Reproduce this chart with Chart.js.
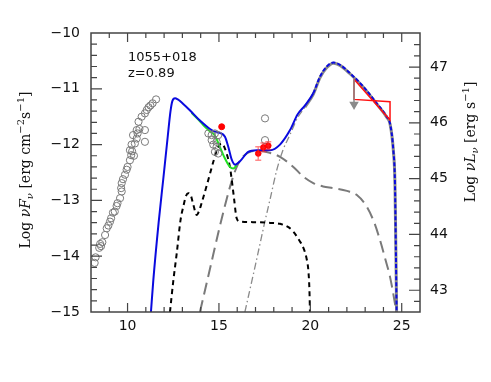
<!DOCTYPE html>
<html><head><meta charset="utf-8">
<script src="https://cdn.jsdelivr.net/npm/chart.js@4.4.0/dist/chart.umd.min.js"></script>
<style>html,body{margin:0;padding:0;background:#fff}#wrap{width:491px;height:382px}</style>
</head><body><div id="wrap"><canvas id="c" width="491" height="382"></canvas></div>
<script>
// ---- data (log nu [Hz], log nuF_nu [erg cm^-2 s^-1]) ----
const xTickLabels = ['10','15','20','25'];
const xTickValues = [10,15,20,25];
const yTickLabels = ['\u221210','\u221211','\u221212','\u221213','\u221214','\u221215'];
const yTickValues = [-10,-11,-12,-13,-14,-15];
const y2TickLabels = ['43','44','45','46','47'];
const y2TickValues = [43,44,45,46,47];

const archiveX = [8.2,8.25,8.45,8.5,8.55,8.62,8.77,8.86,8.95,9.04,9.1,9.2,9.3,9.4,9.45,9.59,9.68,9.65,9.68,9.75,9.86,9.95,10.0,10.13,10.2,10.13,10.25,10.35,10.22,10.4,10.5,10.3,10.55,10.5,10.65,10.95,10.95,10.6,10.77,10.95,11.05,11.15,11.25,11.37,11.56,
  14.6,14.78,14.96,14.6,14.87,14.69,14.87,14.78,14.96,14.42,17.52,17.52];
const archiveY = [-14.12,-14.02,-13.85,-13.78,-13.82,-13.75,-13.62,-13.5,-13.45,-13.38,-13.32,-13.22,-13.2,-13.1,-13.05,-12.96,-12.84,-12.78,-12.69,-12.62,-12.54,-12.45,-12.4,-12.28,-12.19,-12.1,-12.12,-12.2,-12.0,-11.98,-11.89,-11.83,-11.8,-11.74,-11.72,-11.74,-11.95,-11.59,-11.5,-11.44,-11.38,-11.33,-11.3,-11.26,-11.19,
  -11.83,-11.8,-11.83,-11.92,-11.95,-12.0,-12.04,-12.13,-12.16,-11.8,-11.53,-11.92];

const redDotX = [15.15];
const redDotY = [-11.68];

const xrayX = [17.15,17.43,17.7];
const xrayY = [-12.16,-12.05,-12.02];
const xrayYErr = [0.12,0.08,0.07];
const xrayXErr = [0.1,0.1,0.1];

const totalX = [11.28,11.41,11.7,11.95,12.2,12.35,12.45,12.6,12.75,12.87,13.42,13.96,14.51,14.88,15.05,15.33,15.51,15.7,15.88,16.15,16.6,17.06,17.8,18.34,18.89,19.3,19.7,20.16,20.53,20.9,21.26,21.62,22.17,22.9,23.63,24.18,24.36,24.54,24.63,24.68,24.72];
const totalY = [-15.0,-14.43,-13.4,-12.63,-11.85,-11.4,-11.22,-11.17,-11.19,-11.22,-11.39,-11.57,-11.72,-11.78,-11.79,-11.86,-12.04,-12.27,-12.36,-12.3,-12.13,-12.1,-12.1,-12.0,-11.74,-11.46,-11.3,-11.08,-10.78,-10.6,-10.53,-10.57,-10.72,-10.96,-11.26,-11.5,-11.62,-12.1,-12.69,-13.89,-14.98];

const opticalX = [13.5,13.9,14.14,14.5,14.78,15.05,15.33,15.6,15.78,15.97];
const opticalY = [-11.43,-11.56,-11.65,-11.76,-11.84,-12.04,-12.25,-12.4,-12.43,-12.37];

const diskX = [12.32,12.5,12.69,12.9,13.05,13.2,13.32,13.45,13.6,13.78,13.9,14.05,14.42,14.7,14.96,15.15,15.42,15.6,15.7,15.82,15.97,16.15,17.0,17.61,18.34,18.8,19.07,19.4,19.62,19.8,19.89,19.95,19.98];
const diskY = [-15.0,-14.45,-13.95,-13.35,-13.11,-12.92,-12.87,-12.9,-13.08,-13.26,-13.2,-13.05,-12.63,-12.3,-12.04,-11.98,-12.16,-12.4,-12.63,-12.95,-13.32,-13.38,-13.39,-13.4,-13.42,-13.48,-13.56,-13.72,-13.85,-14.05,-14.25,-14.6,-15.0];

const sscX = [13.96,14.5,15.0,15.5,15.8,16.0,16.3,16.7,17.2,17.8,18.34,19.07,19.6,20.16,20.7,21.26,22.0,22.53,23.08,23.5,23.81,24.1,24.36,24.63,24.7];
const sscY = [-15.0,-14.24,-13.53,-12.88,-12.55,-12.38,-12.22,-12.13,-12.11,-12.15,-12.22,-12.4,-12.57,-12.69,-12.75,-12.78,-12.83,-12.9,-13.11,-13.4,-13.71,-14.05,-14.37,-14.85,-15.0];

const ecX = [16.42,17.0,17.5,17.79,18.16,18.5,18.89,19.3,19.7,20.16,20.53,20.9,21.26,21.62,22.17,22.9,23.63,24.18,24.36,24.54,24.63,24.68,24.72];
const ecY = [-15.0,-14.15,-13.4,-12.99,-12.46,-12.1,-11.82,-11.52,-11.33,-11.1,-10.8,-10.62,-10.54,-10.58,-10.73,-10.97,-11.27,-11.51,-11.63,-12.1,-12.7,-13.9,-15.0];

const fermiX = [22.39,24.36,24.36,22.39,22.39];
const fermiY = [-10.83,-11.56,-11.23,-11.19,-10.83];
const limitX = [22.39,22.39];
const limitY = [-10.83,-11.28];

const sourceName = '1055+018';
const redshiftText = 'z=0.89';

// ---- build ----
const pts = (xs, ys) => xs.map((x, i) => ({x, y: ys[i]}));

const curve = (data, color, width, dash, order, extra) => Object.assign({
  data, showLine: true, borderColor: color, borderWidth: width, borderDash: dash,
  pointRadius: 0, pointHoverRadius: 0, cubicInterpolationMode: 'monotone', fill: false, order
}, extra || {});

const errorPlugin = {
  id: 'errbars',
  afterDatasetsDraw(chart) {
    const ctx = chart.ctx, xs = chart.scales.x, ys = chart.scales.y;
    ctx.save();
    ctx.strokeStyle = 'rgba(255,40,40,0.55)';
    ctx.lineWidth = 1.5;
    xrayX.forEach((x, i) => {
      const px = xs.getPixelForValue(x), py = ys.getPixelForValue(xrayY[i]);
      const t = ys.getPixelForValue(xrayY[i] + xrayYErr[i]), b = ys.getPixelForValue(xrayY[i] - xrayYErr[i]);
      const l = xs.getPixelForValue(x - xrayXErr[i]), r = xs.getPixelForValue(x + xrayXErr[i]);
      ctx.beginPath();
      ctx.moveTo(px, t); ctx.lineTo(px, b);
      ctx.moveTo(px - 3, t); ctx.lineTo(px + 3, t);
      ctx.moveTo(px - 3, b); ctx.lineTo(px + 3, b);
      ctx.moveTo(l, py); ctx.lineTo(r, py);
      ctx.stroke();
    });
    ctx.restore();
  }
};

function drawRich(ctx, parts, cx, cy) {
  let total = 0;
  parts.forEach(p => { ctx.font = p.font; p.w = ctx.measureText(p.t).width; total += p.w; });
  let x = cx - total / 2;
  parts.forEach(p => { ctx.font = p.font; ctx.fillText(p.t, x, cy + (p.dy || 0)); x += p.w; });
}

const framePlugin = {
  id: 'frame',
  afterDraw(chart) {
    const ctx = chart.ctx, a = chart.chartArea;
    const xs = chart.scales.x, ys = chart.scales.y, y2 = chart.scales.y2;
    ctx.save();
    ctx.strokeStyle = '#444';
    ctx.lineWidth = 1.5;
    ctx.strokeRect(a.left, a.top, a.right - a.left, a.bottom - a.top);
    ctx.lineWidth = 1.2;
    ctx.beginPath();
    // x ticks (bottom & top), every 1 with majors at multiples of 5
    for (let v = 9; v <= 25; v++) {
      const px = xs.getPixelForValue(v);
      const len = (v % 5 === 0) ? 9 : 5;
      ctx.moveTo(px, a.bottom); ctx.lineTo(px, a.bottom - len);
      ctx.moveTo(px, a.top); ctx.lineTo(px, a.top + len);
    }
    // left y ticks every 0.2
    for (let k = 1; k < 25; k++) {
      const v = -15 + k * 0.2;
      const py = ys.getPixelForValue(v);
      const len = (k % 5 === 0) ? 11 : 6;
      ctx.moveTo(a.left, py); ctx.lineTo(a.left + len, py);
    }
    // right y ticks every 0.2 on the nuL_nu scale
    for (let k = 1; k <= 24; k++) {
      const v = 42.8 + (k - 1) * 0.2;
      const py = y2.getPixelForValue(v);
      if (py <= a.top + 1 || py >= a.bottom - 1) continue;
      const major = Math.abs(v - Math.round(v)) < 1e-6;
      const len = major ? 11 : 6;
      ctx.moveTo(a.right, py); ctx.lineTo(a.right - len, py);
    }
    ctx.stroke();

    // tick labels
    ctx.fillStyle = '#111';
    ctx.font = '14px "DejaVu Sans"';
    ctx.textBaseline = 'middle';
    ctx.textAlign = 'center';
    xTickValues.forEach((v, i) => ctx.fillText(xTickLabels[i], xs.getPixelForValue(v), a.bottom + 14));
    ctx.textAlign = 'right';
    yTickValues.forEach((v, i) => ctx.fillText(yTickLabels[i], a.left - 11, ys.getPixelForValue(v)));
    ctx.textAlign = 'left';
    y2TickValues.forEach((v, i) => ctx.fillText(y2TickLabels[i], a.right + 10, y2.getPixelForValue(v)));

    // annotation
    ctx.font = '13px "DejaVu Sans"';
    ctx.fillText(sourceName, 128, 58);
    ctx.fillText(redshiftText, 128, 74);

    // axis titles
    ctx.textAlign = 'left';
    const big = '14px "DejaVu Serif"', it = 'italic 14px "DejaVu Serif"', sm = '10px "DejaVu Serif"', smi = 'italic 10px "DejaVu Serif"';
    ctx.save();
    ctx.translate(26, 170);
    ctx.rotate(-Math.PI / 2);
    drawRich(ctx, [
      {t: 'Log ', font: big}, {t: '\u03BDF', font: it}, {t: '\u03BD', font: smi, dy: 4},
      {t: ' [erg cm', font: big}, {t: '\u22122', font: sm, dy: -5}, {t: 's', font: big},
      {t: '\u22121', font: sm, dy: -5}, {t: ']', font: big}
    ], 0, 0);
    ctx.restore();
    ctx.save();
    ctx.translate(471, 142);
    ctx.rotate(-Math.PI / 2);
    drawRich(ctx, [
      {t: 'Log ', font: big}, {t: '\u03BDL', font: it}, {t: '\u03BD', font: smi, dy: 4},
      {t: ' [erg s', font: big}, {t: '\u22121', font: sm, dy: -5}, {t: ']', font: big}
    ], 0, 0);
    ctx.restore();
    ctx.restore();
  }
};

new Chart(document.getElementById('c'), {
  type: 'scatter',
  data: {
    datasets: [
      // upper limit arrow
      {data: pts(limitX, limitY), showLine: true, borderColor: '#8a8a8a', borderWidth: 1.5,
       pointRadius: [0, 4], pointStyle: 'triangle', rotation: 180, pointBackgroundColor: '#8a8a8a',
       pointBorderColor: '#8a8a8a', order: 0},
      // Fermi bow-tie
      {data: pts(fermiX, fermiY), showLine: true, borderColor: '#ff1010', borderWidth: 1.5,
       pointRadius: 0, tension: 0, order: 1},
      // X-ray points
      {data: pts(xrayX, xrayY), borderColor: '#ff0000', backgroundColor: '#ff0000', pointRadius: 2.8, order: 2},
      // red dot
      {data: pts(redDotX, redDotY), borderColor: '#ff0000', backgroundColor: '#ff0000', pointRadius: 3, order: 3},
      // archival points
      {data: pts(archiveX, archiveY), borderColor: '#7a7a7a', backgroundColor: 'rgba(0,0,0,0)', borderWidth: 1,
       pointRadius: 3.6, order: 4},
      // total model
      curve(pts(totalX, totalY), '#0a0adf', 2, [], 5, {segment: {borderDash: c => c.p0.parsed.x >= 20.1 ? [4, 2] : undefined}}),
      // optical spectrum
      curve(pts(opticalX, opticalY), '#22e022', 2, [], 6),
      // disk + torus
      curve(pts(diskX, diskY), '#000000', 2, [5, 4], 7),
      // SSC
      curve(pts(sscX, sscY), '#7a7a7a', 2, [12, 6], 8),
      // EC
      curve(pts(ecX, ecY), '#8a8a8a', 1.3, [7, 3, 1.5, 3], 9, {segment: {
        borderDash: c => c.p0.parsed.x >= 19.7 ? [] : undefined,
        borderWidth: c => c.p0.parsed.x >= 19.7 ? 3 : undefined}})
    ]
  },
  options: {
    responsive: false,
    animation: false,
    devicePixelRatio: 1,
    layout: {padding: {left: 91, right: 71, top: 33, bottom: 70}},
    plugins: {legend: {display: false}, tooltip: {enabled: false}},
    scales: {
      x: {type: 'linear', min: 8, max: 26, display: false},
      y: {type: 'linear', min: -15, max: -10, display: false},
      y2: {type: 'linear', position: 'right', min: 42.61, max: 47.61, display: false}
    }
  },
  plugins: [errorPlugin, framePlugin]
});
</script>
</body></html>
